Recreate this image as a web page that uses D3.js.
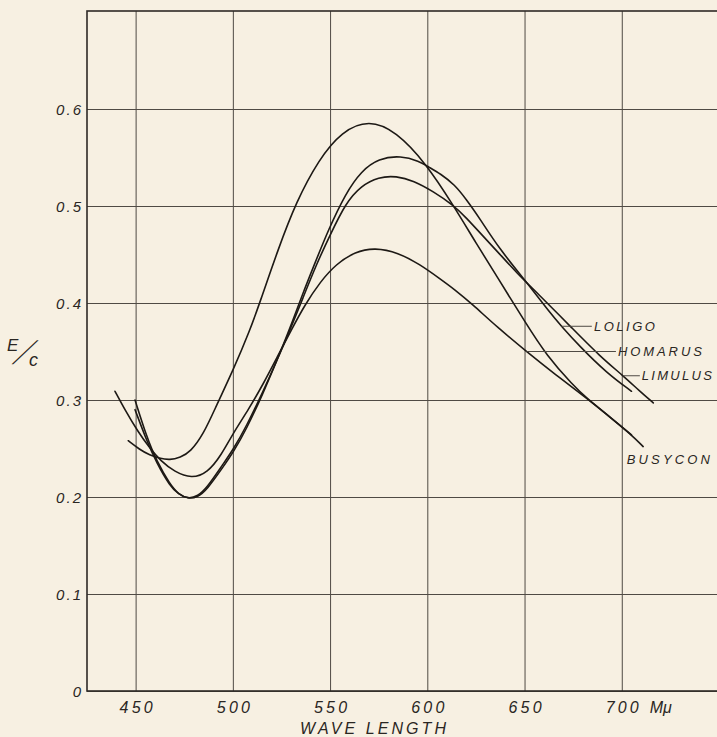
<!DOCTYPE html>
<html><head><meta charset="utf-8">
<script src="https://cdn.jsdelivr.net/npm/d3@7"></script>
<style>
html,body{margin:0;padding:0;background:#f7f0e2;}
svg{display:block;}
text{font-family:"Liberation Sans",Arial,sans-serif;font-style:italic;fill:#2a2622;}
</style></head><body>
<svg id="chart" width="717" height="737"></svg>
<script>
// ---- data ----
const xTicks = [450, 500, 550, 600, 650, 700];
const xTickLabels = ["450", "500", "550", "600", "650", "700"];
const yTicks = [0, 0.1, 0.2, 0.3, 0.4, 0.5, 0.6];
const yTickLabels = ["0", "0.1", "0.2", "0.3", "0.4", "0.5", "0.6"];
const xUnit = "Mμ";
const xTitle = "WAVE LENGTH";

const loligo = [[449.7,0.300],[455.7,0.262],[460.8,0.237],[467.7,0.213],[472,0.203],[477,0.198],[482,0.200],[486.5,0.207],[495,0.231],[500.2,0.246],[507,0.270],[515.6,0.307],[522.5,0.340],[529.4,0.374],[536,0.410],[542,0.440],[549,0.475],[558,0.513],[566,0.536],[575,0.549],[586.4,0.552],[596,0.546],[600,0.541],[607,0.533],[614,0.522],[620,0.507],[627,0.487],[637,0.456],[650,0.424],[663.1,0.390],[669,0.376],[678.5,0.355],[692.2,0.328],[705,0.309]];
const homarus = [[439.4,0.309],[445,0.288],[451,0.268],[457,0.251],[463,0.237],[470,0.226],[478.8,0.219],[487,0.225],[494,0.243],[500.2,0.266],[508,0.290],[515.5,0.316],[523,0.345],[530,0.372],[537,0.398],[545,0.422],[553,0.440],[563,0.453],[573,0.457],[585,0.452],[596,0.440],[606.5,0.425],[614,0.414],[623,0.399],[636,0.375],[651,0.350],[666,0.326],[681.9,0.302],[693,0.284],[705,0.264]];
const limulus = [[449.7,0.290],[455.7,0.258],[460.8,0.235],[467.7,0.211],[472,0.203],[477,0.198],[482,0.201],[486.5,0.209],[495,0.234],[500.2,0.249],[507,0.273],[515.6,0.309],[522.5,0.340],[529.4,0.372],[536,0.405],[543,0.440],[550,0.470],[558,0.503],[566,0.521],[575,0.530],[584,0.531],[593,0.526],[603,0.515],[613.3,0.501],[620,0.488],[628.6,0.469],[637,0.451],[646,0.431],[656.2,0.411],[675,0.373],[688.8,0.345],[700.7,0.325],[709.3,0.309],[716.2,0.297]];
const busycon = [[446.2,0.258],[452,0.249],[457.4,0.243],[462,0.240],[467.7,0.238],[473,0.241],[478,0.246],[485,0.265],[491.7,0.295],[500.2,0.331],[508.8,0.372],[513.8,0.400],[523.2,0.455],[532.5,0.504],[544.2,0.548],[556,0.577],[570,0.589],[583.9,0.577],[599.3,0.544],[613.3,0.501],[625,0.462],[635.6,0.428],[651,0.378],[661.3,0.346],[675,0.315],[681.9,0.302],[693,0.284],[705,0.264],[711,0.252]];

const seriesNames = ["LOLIGO", "HOMARUS", "LIMULUS", "BUSYCON"];
const seriesData = [loligo, homarus, limulus, busycon];
// leader lines: start on curve (wavelength, value), end at label
const leaderFrom = [669, 651, 700.7, null];
const leaderTo = [684.6, 697, 709.3, null];
const labelX = [685.7, 698.0, 710.3, 702.6];
const labelY = [0.376, 0.350, 0.325, 0.2385];
const labelWidth = [61, 84, 70, 83];

// ---- layout ----
const svg = d3.select("#chart");
const mLeft = 87, mRight = 719, mTop = 11, mBottom = 691;
const x = d3.scaleLinear().domain([425, 750]).range([mLeft, mRight]);
const y = d3.scaleLinear().domain([0, 0.7]).range([mBottom, 12]);

const ink = "#2a2622";
const gridCol = "#4f4a44";

// grid via axes
const gx = svg.append("g").attr("transform", `translate(0,${mBottom})`)
  .call(d3.axisBottom(x).tickValues(xTicks).tickSize(-(mBottom - mTop)).tickFormat((d,i) => xTickLabels[i]));
gx.select(".domain").remove();
gx.selectAll("line").attr("stroke", gridCol).attr("stroke-width", 1);
gx.selectAll("text").attr("y", 22).attr("dy", null)
  .attr("font-size", 16).attr("fill", ink).attr("font-family", null)
  .attr("textLength", 33).attr("lengthAdjust", "spacing");

const gy = svg.append("g").attr("transform", `translate(${mLeft},0)`)
  .call(d3.axisLeft(y).tickValues(yTicks).tickSize(-(mRight - mLeft)).tickPadding(6).tickFormat((d,i) => yTickLabels[i]));
gy.select(".domain").remove();
gy.selectAll("line").attr("stroke", gridCol).attr("stroke-width", 1);
gy.selectAll("text").attr("font-size", 15).attr("fill", ink).attr("font-family", null)
  .attr("dy", "0.36em")
  .each(function(d){ if (d !== 0) d3.select(this).attr("textLength", 25).attr("lengthAdjust", "spacing"); });

// frame
svg.append("rect").attr("x", mLeft).attr("y", mTop).attr("width", mRight - mLeft).attr("height", mBottom - mTop)
  .attr("fill", "none").attr("stroke", "#2e2a26").attr("stroke-width", 1.6);

// unit label
svg.append("text").attr("x", x(700) + 28).attr("y", mBottom + 22).attr("font-size", 16).text(xUnit);

// axis title
svg.append("text").attr("x", 300).attr("y", 733.5).attr("font-size", 16)
  .attr("textLength", 146).attr("lengthAdjust", "spacing").text(xTitle);

// E/c  (slash glyph stretched along its own direction so it stays thin)
svg.append("text").attr("x", 7).attr("y", 351).attr("font-size", 17).text("E");
svg.append("text").attr("font-size", 16).attr("font-style", "normal")
  .attr("transform", "translate(13,364) rotate(-45) scale(2.7,1) rotate(69)").text("/");
svg.append("text").attr("x", 29).attr("y", 366).attr("font-size", 18).text("c");

// curves
const line = d3.line().x(d => x(d[0])).y(d => y(d[1])).curve(d3.curveBasis);
svg.append("g").selectAll("path").data(seriesData).join("path")
  .attr("d", line).attr("fill", "none").attr("stroke", "#1d1915").attr("stroke-width", 1.6)
  .attr("stroke-linecap", "round");

// leaders + labels
seriesNames.forEach((name, i) => {
  if (leaderFrom[i] !== null) {
    svg.append("line").attr("x1", x(leaderFrom[i])).attr("x2", x(leaderTo[i]))
      .attr("y1", y(labelY[i])).attr("y2", y(labelY[i]))
      .attr("stroke", gridCol).attr("stroke-width", 1);
  }
  svg.append("text").attr("x", x(labelX[i])).attr("y", y(labelY[i])).attr("dy", "0.36em")
    .attr("font-size", 13).attr("textLength", labelWidth[i]).attr("lengthAdjust", "spacing").text(name);
});
</script>
</body></html>
